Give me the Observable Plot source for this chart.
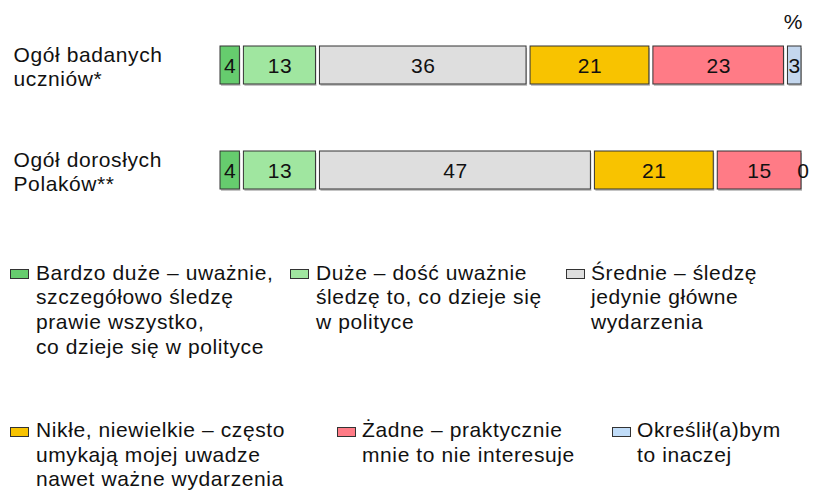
<!DOCTYPE html>
<html>
<head>
<meta charset="utf-8">
<script src="https://cdn.jsdelivr.net/npm/d3@7"></script>
<script src="https://cdn.jsdelivr.net/npm/@observablehq/plot@0.6"></script>
<style>
  html, body { margin: 0; padding: 0; background: #ffffff; }
  #wrap { position: relative; width: 813px; height: 490px; overflow: hidden;
          font-family: "Liberation Sans", Arial, sans-serif; color: #111; }
  #wrap svg { display: block; }
  .leg { position: absolute; font-size: 21px; line-height: 24.7px; letter-spacing: 0.6px; white-space: pre; }
  .sw { position: absolute; width: 17px; height: 8px; border: 1px solid #333; }
</style>
</head>
<body>
<div id="wrap"></div>
<script>
// ---- data ----
const groups = ["Ogół badanych\nuczniów*", "Ogół dorosłych\nPolaków**"];
const categories = [
  "Bardzo duże – uważnie, szczegółowo śledzę prawie wszystko, co dzieje się w polityce",
  "Duże – dość uważnie śledzę to, co dzieje się w polityce",
  "Średnie – śledzę jedynie główne wydarzenia",
  "Nikłe, niewielkie – często umykają mojej uwadze nawet ważne wydarzenia",
  "Żadne – praktycznie mnie to nie interesuje",
  "Określił(a)bym to inaczej"
];
const students = [4, 13, 36, 21, 23, 3];
const adults = [4, 13, 47, 21, 15, 0];
const barColors = ["#66cc6e", "#a0e6a0", "#dedede", "#f8c300", "#ff7b86", "#c4d7ee"];
const legendColors = ["#66cc6e", "#a0e6a0", "#dedede", "#f8c300", "#ff7b86", "#c0dcf8"];
const legendLines = [
  "Bardzo duże – uważnie,\nszczegółowo śledzę\nprawie wszystko,\nco dzieje się w polityce",
  "Duże – dość uważnie\nśledzę to, co dzieje się\nw polityce",
  "Średnie – śledzę\njedynie główne\nwydarzenia",
  "Nikłe, niewielkie – często\numykają mojej uwadze\nnawet ważne wydarzenia",
  "Żadne – praktycznie\nmnie to nie interesuje",
  "Określił(a)bym\nto inaczej"
];
const unitLabel = "%";

// ---- table for Plot ----
const rows = [];
[students, adults].forEach((vals, gi) => {
  vals.forEach((v, ci) => rows.push({group: groups[gi], cat: categories[ci], value: v}));
});
const nonZero = rows.filter(d => d.value > 0);

const font = "Liberation Sans, Arial, sans-serif";
const chart = Plot.plot({
  width: 813,
  height: 240,
  margin: 0,
  style: {fontFamily: font, fontSize: "21px", color: "#111", background: "transparent", letterSpacing: "0.6px"},
  x: {domain: [0, 100], range: [218, 803], axis: null},
  y: {domain: groups, range: [34.4, 199.6], paddingInner: 0.6415, paddingOuter: 0.1, axis: null},
  color: {domain: categories, range: barColors},
  marks: [
    Plot.barX(nonZero, Plot.stackX({x: "value", y: "group", fill: "#c4c4c4", dx: 1, dy: 2, insetLeft: 2, insetRight: 2})),
    Plot.barX(nonZero, Plot.stackX({x: "value", y: "group", fill: "cat", stroke: "#333", strokeWidth: 1, insetLeft: 2, insetRight: 2})),
    Plot.text(rows, Plot.stackX({x: "value", y: "group", text: d => String(d.value), fontSize: 21, fill: "#111", dy: 1})),
    Plot.text(groups, {y: d => d, text: d => d, frameAnchor: "left", textAnchor: "start", dx: 13, dy: 1, lineHeight: 1.15, fontSize: 21, fill: "#111"}),
    Plot.text([unitLabel], {text: d => d, frameAnchor: "top-right", textAnchor: "middle", lineAnchor: "top", dx: -20, dy: 14, fontSize: 21, fill: "#111"})
  ]
});
const wrap = document.getElementById("wrap");
wrap.appendChild(chart);

// ---- legend (HTML, below the SVG) ----
const legendPos = [
  {sx: 10, tx: 36, row: 0}, {sx: 290, tx: 316, row: 0}, {sx: 566, tx: 591, row: 0},
  {sx: 10, tx: 36, row: 1}, {sx: 337, tx: 362, row: 1}, {sx: 612, tx: 637, row: 1}
];
const rowSwatchTop = [269, 427];
const rowTextTop = [260.5, 418];
categories.forEach((c, i) => {
  const p = legendPos[i];
  const sw = document.createElement("div");
  sw.className = "sw";
  sw.style.left = p.sx + "px";
  sw.style.top = rowSwatchTop[p.row] + "px";
  sw.style.background = legendColors[i];
  wrap.appendChild(sw);
  const t = document.createElement("div");
  t.className = "leg";
  t.style.left = p.tx + "px";
  t.style.top = rowTextTop[p.row] + "px";
  t.textContent = legendLines[i];
  wrap.appendChild(t);
});
</script>
</body>
</html>
